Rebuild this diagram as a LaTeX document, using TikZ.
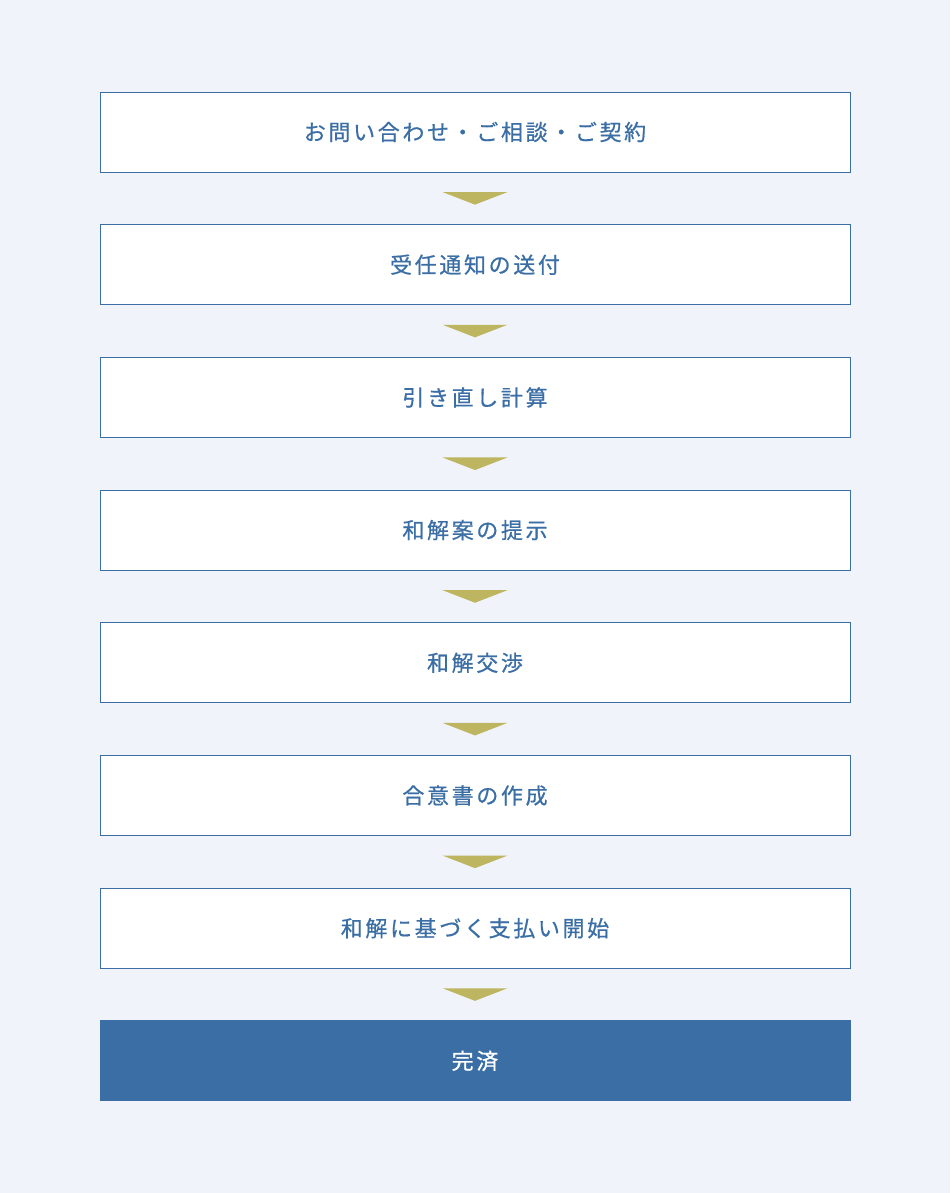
\documentclass[tikz,border=0pt]{standalone}
\usepackage{fontspec}
\usetikzlibrary{calc}
\newfontfamily\jp[LetterSpace=12,FakeBold=0.6]{Noto Sans CJK JP}
\definecolor{bgc}{HTML}{F0F4FA}
\definecolor{blu}{HTML}{3B6EA5}
\definecolor{gld}{HTML}{BDB55F}
\tikzset{
  stepbox/.style={draw=blu, line width=0.9pt, fill=white, minimum width=750pt, minimum height=80pt, inner sep=0pt, text=blu, font=\jp\fontsize{22pt}{22pt}\selectfont},
  donebox/.style={stepbox, fill=blu, text=white},
  tri/.style={fill=gld}
}
\begin{document}
\begin{tikzpicture}[x=1pt,y=-1pt]
\fill[bgc] (0,0) rectangle (950,1193);
\useasboundingbox (0,0) rectangle (950,1193);
\node[stepbox] (b1) at (475,132) {お問い合わせ・ご相談・ご契約};
\node[stepbox] (b2) at (475,264.7) {受任通知の送付};
\node[stepbox] (b3) at (475,397.4) {引き直し計算};
\node[stepbox] (b4) at (475,530.1) {和解案の提示};
\node[stepbox] (b5) at (475,662.8) {和解交渉};
\node[stepbox] (b6) at (475,795.5) {合意書の作成};
\node[stepbox] (b7) at (475,928.2) {和解に基づく支払い開始};
\node[donebox] (b8) at (475,1060.9) {完済};
\foreach \i/\j in {1/2,2/3,3/4,4/5,5/6,6/7,7/8}{
  \coordinate (m\i) at ($(b\i.south)!0.5!(b\j.north)$);
  \fill[tri] ([xshift=-32.5pt,yshift=6.3pt]m\i) -- ([xshift=32.5pt,yshift=6.3pt]m\i) -- ([yshift=-6.3pt]m\i) -- cycle;
}
\end{tikzpicture}
\end{document}
